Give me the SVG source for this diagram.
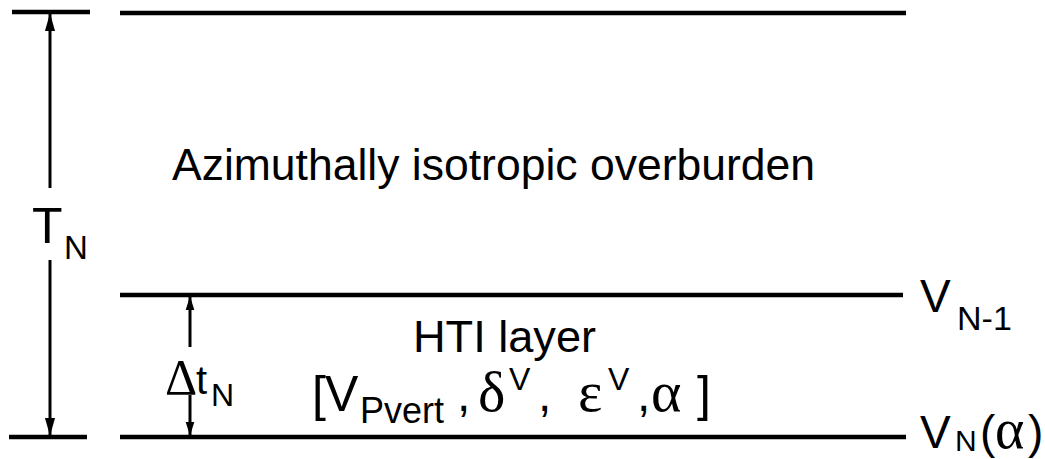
<svg xmlns="http://www.w3.org/2000/svg" width="1045" height="459" viewBox="0 0 1045 459">
<style>
.ln{stroke:#000;stroke-width:4.5;fill:none}
.ar{stroke:#000;stroke-width:3;fill:none}
.s{font-family:"Liberation Sans",Arial,sans-serif;fill:#000}
.g{font-family:"Liberation Serif","Times New Roman",serif;fill:#000}
</style>
<defs>
<marker id="hb" markerUnits="userSpaceOnUse" markerWidth="18" markerHeight="28" refX="27" refY="8" orient="auto" viewBox="0 0 28 16">
<path d="M0,0 L28,8 L0,16 Z" fill="#000"/>
</marker>
<marker id="hs" markerUnits="userSpaceOnUse" markerWidth="14" markerHeight="22" refX="21" refY="7" orient="auto" viewBox="0 0 22 14">
<path d="M0,0 L22,7 L0,14 Z" fill="#000"/>
</marker>
</defs>
<g id="boundaries">
<line class="ln" x1="12" y1="12" x2="90" y2="12"/>
<line class="ln" x1="120" y1="13" x2="906" y2="13"/>
<line class="ln" x1="120" y1="295" x2="903" y2="295"/>
<line class="ln" x1="9" y1="437" x2="87" y2="437"/>
<line class="ln" x1="120" y1="437" x2="906" y2="437"/>
</g>
<g id="overburden">
<text class="s" x="172" y="180" font-size="44.5" textLength="643" lengthAdjust="spacingAndGlyphs">Azimuthally isotropic overburden</text>
</g>
<g id="hti-layer">
<text class="s" x="413" y="352" font-size="45" textLength="183" lengthAdjust="spacingAndGlyphs">HTI layer</text>
<text class="s" x="312" y="411" font-size="50">[</text>
<text class="s" x="325" y="411" font-size="50">V</text>
<text class="s" x="360" y="423" font-size="36">Pvert</text>
<text class="s" x="457" y="411" font-size="48">,</text>
<text class="g" x="478" y="411" font-size="58">δ</text>
<text class="s" x="509" y="390" font-size="32">V</text>
<text class="s" x="538" y="411" font-size="48">,</text>
<text class="g" x="578" y="411" font-size="58">ε</text>
<text class="s" x="608" y="390" font-size="32">V</text>
<text class="s" x="637" y="411" font-size="48">,</text>
<text class="g" x="651" y="411" font-size="58">α</text>
<text class="s" x="697" y="411" font-size="50">]</text>
</g>
<g id="label-TN">
<text class="s" x="32" y="243" font-size="50">T</text>
<text class="s" x="64" y="259" font-size="33">N</text>
</g>
<g id="label-dtN">
<text class="g" x="165" y="394" font-size="50">Δ</text>
<text class="s" x="196" y="394" font-size="40">t</text>
<text class="s" x="211" y="406" font-size="32">N</text>
</g>
<g id="label-VN1">
<text class="s" x="920" y="312" font-size="46">V</text>
<text class="s" x="957" y="330" font-size="34">N-1</text>
</g>
<g id="label-VN">
<text class="s" x="920" y="448" font-size="46">V</text>
<text class="s" x="955" y="451" font-size="30">N</text>
<text class="s" x="980" y="448" font-size="46">(</text>
<text class="g" x="995" y="448" font-size="56">α</text>
<text class="s" x="1028" y="448" font-size="46">)</text>
</g>
<g id="connectors">
<line class="ar" x1="50" y1="188" x2="50" y2="14" marker-end="url(#hb)"/>
<line class="ar" x1="50" y1="260" x2="50" y2="435" marker-end="url(#hb)"/>
<line class="ar" x1="190" y1="347" x2="190" y2="297" marker-end="url(#hs)"/>
<line class="ar" x1="190" y1="395" x2="190" y2="435" marker-end="url(#hs)"/>
</g>
</svg>
